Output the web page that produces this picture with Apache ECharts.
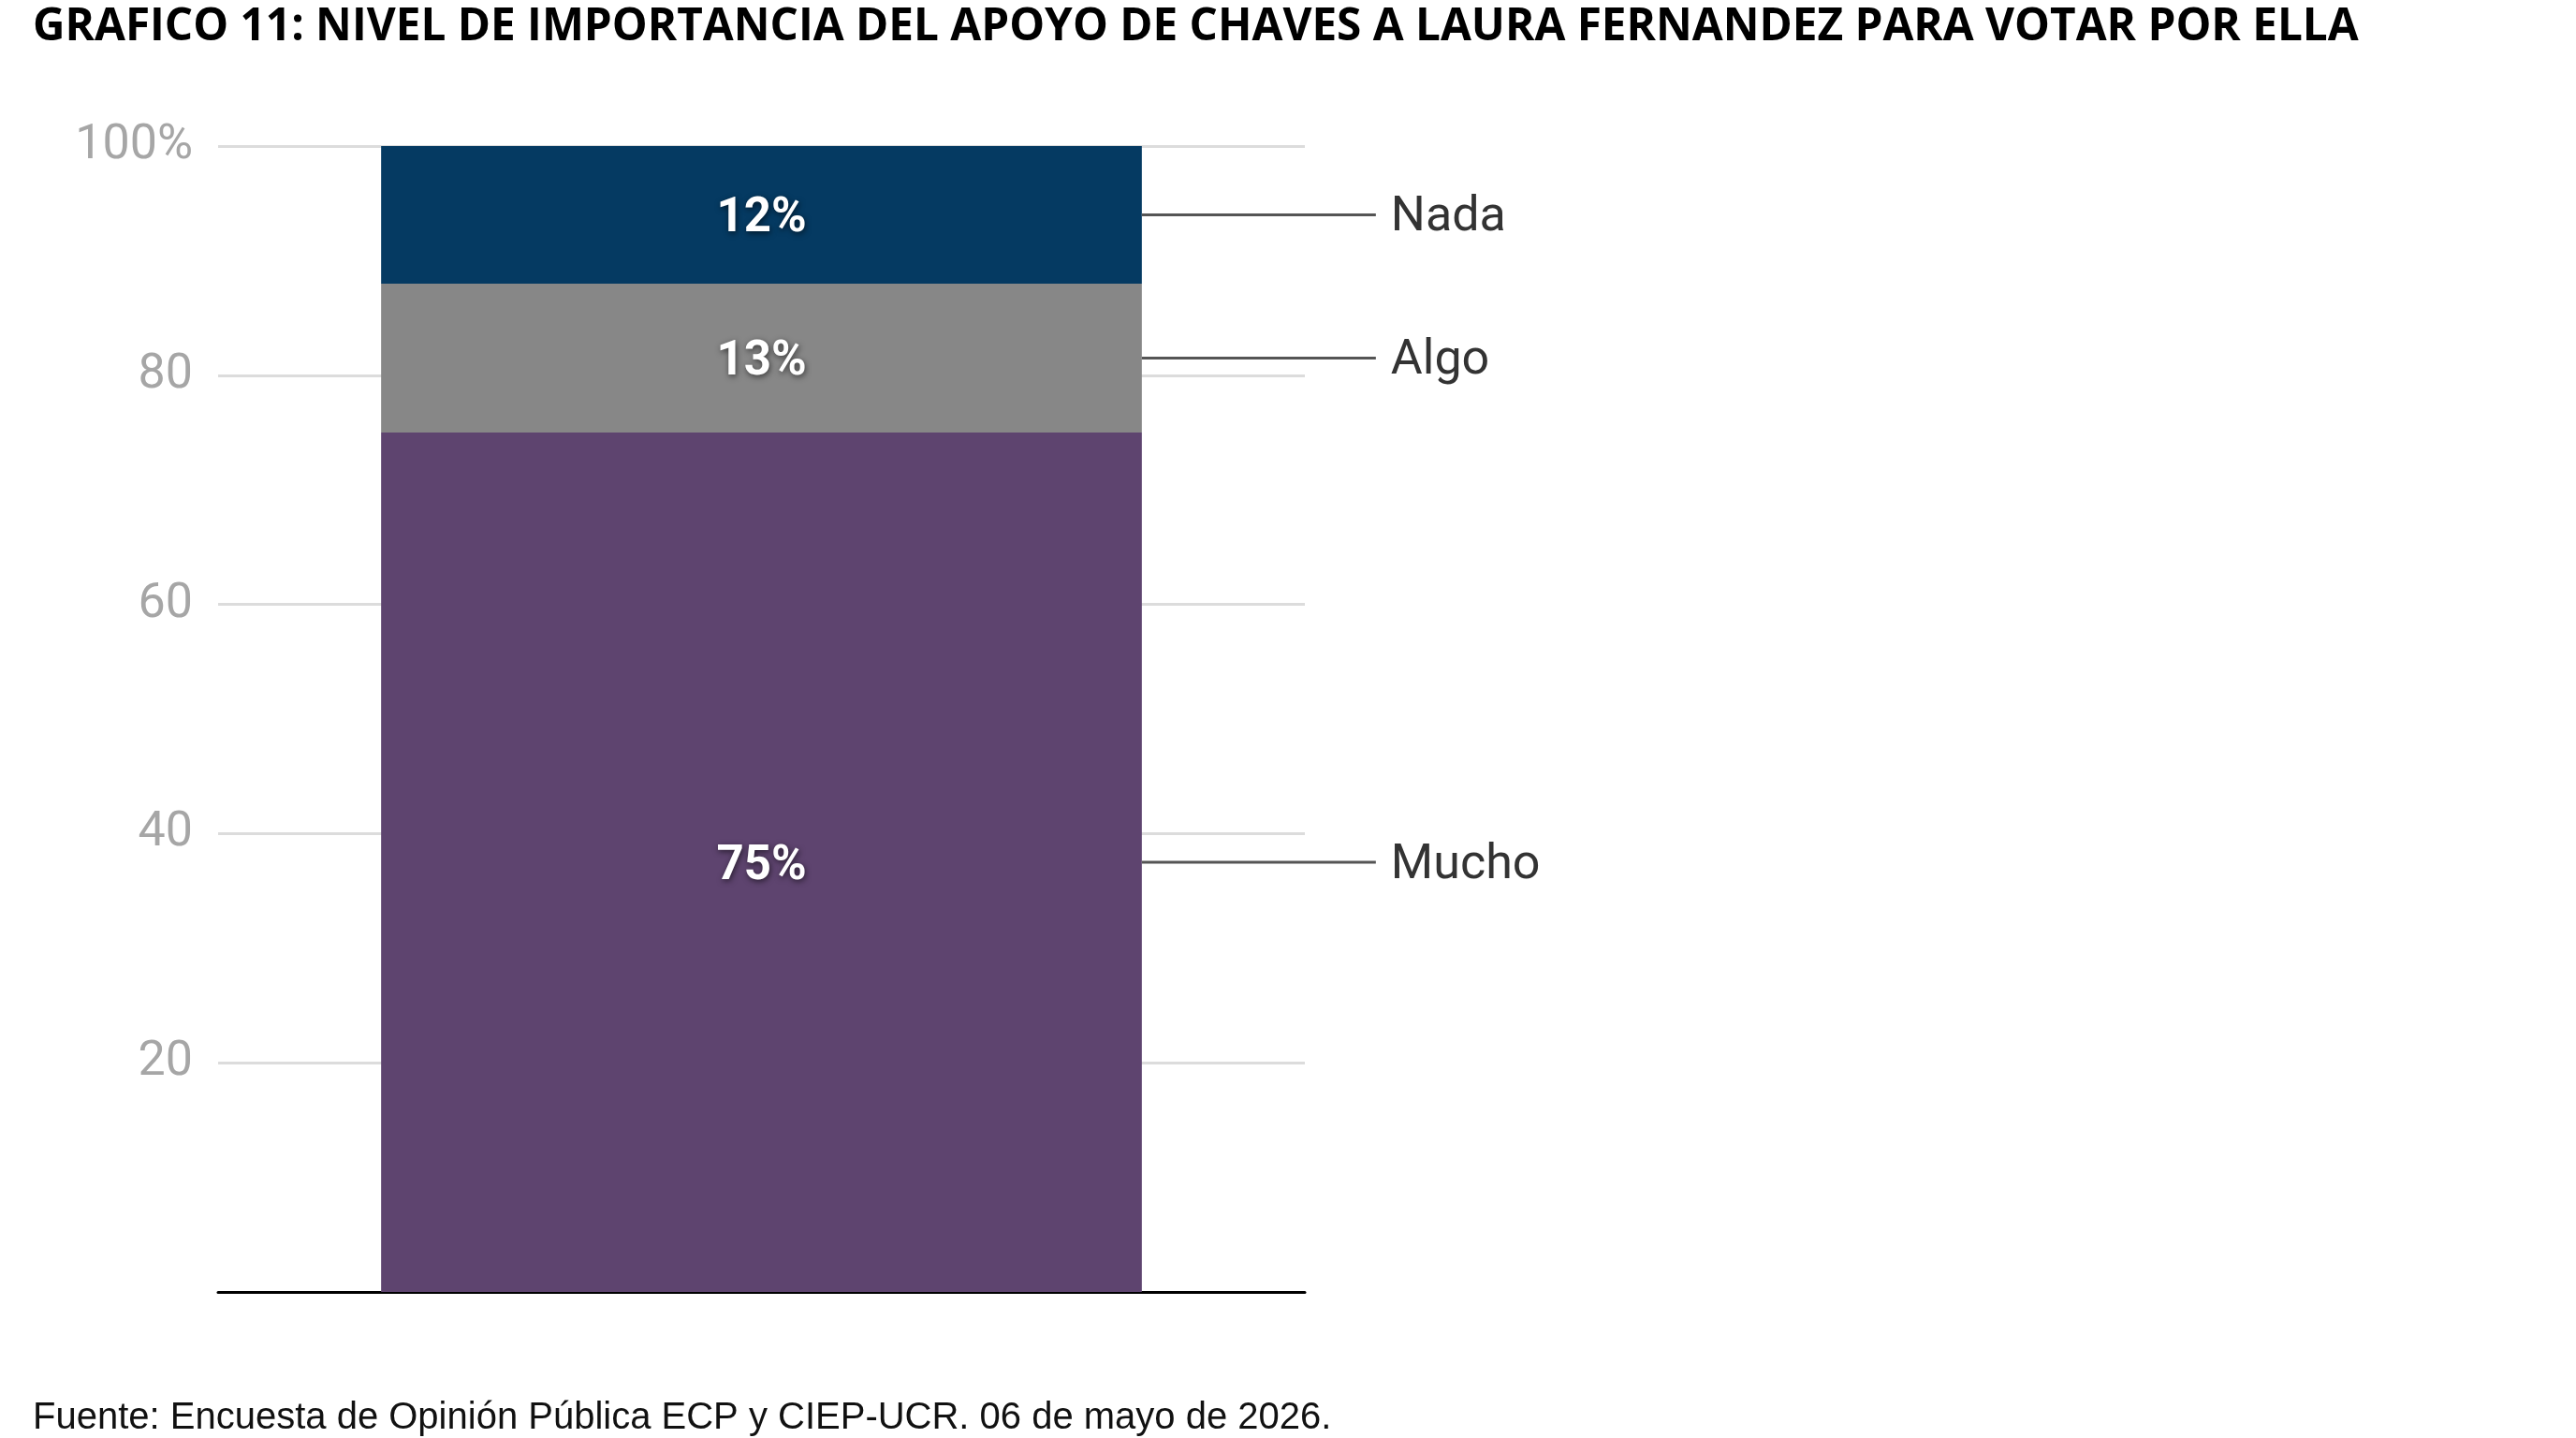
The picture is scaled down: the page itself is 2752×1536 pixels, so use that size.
<!DOCTYPE html>
<html>
<head>
<meta charset="utf-8">
<script src="https://cdn.jsdelivr.net/npm/echarts@6/dist/echarts.min.js"></script>
<style>
  html, body { margin: 0; padding: 0; background: #fff; }
  #main { width: 2752px; height: 1536px; }
</style>
</head>
<body>
<div id="main"></div>
<script>
var categories = ['Total'];
var seriesNames = ['Mucho', 'Algo', 'Nada'];
var seriesValues = [75, 13, 12];
var seriesColors = ['#5e446f', '#878787', '#053a62'];
var yTicks = [0, 20, 40, 60, 80, 100];

var chart = echarts.init(document.getElementById('main'));

var series = [];
for (let i = 0; i < seriesNames.length; i++) {
    series.push({
        name: seriesNames[i],
        type: 'bar',
        stack: 'total',
        barWidth: '70%',
        data: [seriesValues[i]],
        itemStyle: { color: seriesColors[i] },
        label: {
            show: true,
            position: 'inside',
            offset: [0, 5],
            formatter: '{c}%',
            color: '#fff',
            fontFamily: 'Roboto',
            fontWeight: 'bold',
            fontSize: 51,
            textShadowColor: 'rgba(0,0,0,0.6)',
            textShadowBlur: 6,
            textShadowOffsetX: 1,
            textShadowOffsetY: 2
        }
    });
}

// leader lines + names to the right of each segment
var calloutData = [];
var acc = 0;
for (let i = 0; i < seriesNames.length; i++) {
    calloutData.push([0, acc + seriesValues[i] / 2, seriesNames[i]]);
    acc += seriesValues[i];
}
series.push({
    type: 'custom',
    data: calloutData,
    z: 10,
    renderItem: function (params, api) {
        var pt = api.coord([api.value(0), api.value(1)]);
        var band = api.size([1, 0])[0];
        var x0 = pt[0] + band * 0.35;
        var x1 = x0 + 250;
        return {
            type: 'group',
            children: [{
                type: 'line',
                shape: { x1: x0, y1: pt[1], x2: x1, y2: pt[1] },
                style: { stroke: '#555', lineWidth: 3 }
            }, {
                type: 'text',
                x: x1 + 16,
                y: pt[1] + 4,
                style: {
                    text: calloutData[params.dataIndex][2],
                    fill: '#333',
                    font: '52px Roboto',
                    verticalAlign: 'middle',
                    align: 'left'
                }
            }]
        };
    }
});

chart.setOption({
    animation: false,
    backgroundColor: '#fff',
    title: [{
        text: 'GRAFICO 11: NIVEL DE IMPORTANCIA DEL APOYO DE CHAVES A LAURA FERNANDEZ PARA VOTAR POR ELLA',
        left: 30,
        top: 0,
        textStyle: { fontFamily: 'Open Sans', fontWeight: 'bold', fontSize: 47.7, color: '#000' }
    }, {
        text: 'Fuente: Encuesta de Opinión Pública ECP y CIEP-UCR. 06 de mayo de 2026.',
        left: 30,
        top: 1490,
        textStyle: { fontFamily: 'Liberation Sans', fontWeight: 'normal', fontSize: 40, color: '#111' }
    }],
    grid: { left: 233, right: 1358, top: 156, bottom: 156 },
    xAxis: {
        type: 'category',
        data: categories,
        axisLine: { show: true, lineStyle: { color: '#000', width: 3 } },
        axisTick: { show: false },
        axisLabel: { show: false }
    },
    yAxis: {
        type: 'value',
        min: yTicks[0],
        max: yTicks[yTicks.length - 1],
        interval: 20,
        axisLine: { show: false },
        axisTick: { show: false },
        splitLine: { lineStyle: { color: '#dcdcdc', width: 3 } },
        axisLabel: {
            margin: 27,
            color: '#a6a6a6',
            fontFamily: 'Roboto',
            fontSize: 52,
            padding: [6, 0, 0, 0],
            formatter: function (v) {
                if (v === 0) return '';
                return v === 100 ? v + '%' : String(v);
            }
        }
    },
    series: series
});
</script>
</body>
</html>
